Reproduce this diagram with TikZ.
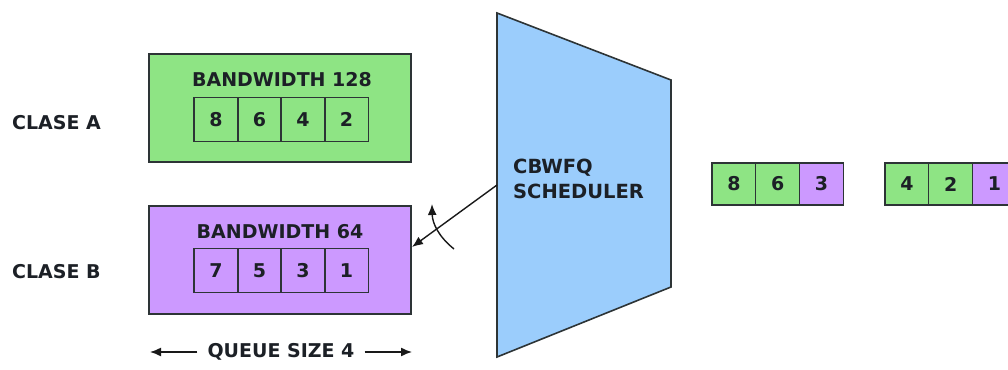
\documentclass[tikz,border=0pt]{standalone}
\usepackage{fontspec}
\setmainfont{DejaVu Sans}
\usetikzlibrary{arrows.meta,calc}

\definecolor{qgreen}{RGB}{142,228,132}
\definecolor{qpurple}{RGB}{204,153,255}
\definecolor{qblue}{RGB}{155,205,252}
\definecolor{edgec}{RGB}{45,52,54}
\definecolor{txt}{RGB}{28,32,38}

\begin{document}
\begin{tikzpicture}[x=1pt,y=-1pt,
  queuebox/.style={draw=edgec, line width=2pt, minimum width=262pt, minimum height=108pt, inner sep=0pt},
  cell/.style={draw=edgec, line width=1.5pt, minimum width=44pt, minimum height=44pt, inner sep=0pt,
    text=txt, font=\bfseries\fontsize{19}{19}\selectfont},
  lbl/.style={text=txt, font=\bfseries\fontsize{19}{20}\selectfont, inner sep=0pt},
  arr/.style={-{Latex[length=11pt,width=9pt]}, line width=1.4pt, draw=black!90}
]
\useasboundingbox (0,0) rectangle (1008,369);

% class labels
\node[lbl, anchor=west] (clA) at (12,123) {CLASE A};
\node[lbl, anchor=west] (clB) at (12,272) {CLASE B};

% class A queue
\node[queuebox, fill=qgreen] (boxA) at (280,108) {};
\node[lbl] (bwA) at (282,80) {BANDWIDTH 128};
\foreach \v [count=\i] in {8,6,4,2}
  \node[cell] (a\i) at ({194+22+43.5*(\i-1)},119.5) {\v};

% class B queue
\node[queuebox, fill=qpurple] (boxB) at (280,260) {};
\node[lbl] (bwB) at (280,232) {BANDWIDTH 64};
\foreach \v [count=\i] in {7,5,3,1}
  \node[cell] (b\i) at ({194+22+43.5*(\i-1)},270.5) {\v};

% queue size marker
\node[lbl] (qs) at (281,352) {QUEUE SIZE 4};
\coordinate (qsL) at (150,352);
\coordinate (qsR) at (412,352);
\draw[arr] (qs.west) ++(-10,0) -- (qsL);
\draw[arr] (qs.east) ++(10,0) -- (qsR);

% scheduler
\draw[draw=edgec, line width=1.6pt, fill=qblue]
  (497,13) coordinate (sTL) -- (671,80) coordinate (sTR)
  -- (671,287) coordinate (sBR) -- (497,357) coordinate (sBL) -- cycle;
\node[lbl, anchor=west, align=left, font=\bfseries\fontsize{19.5}{25}\selectfont] (sched) at (513,179) {CBWFQ\\SCHEDULER};

% scheduler serving class B
\coordinate (sIn) at (497,185);
\coordinate (bIn) at (412,247);
\draw[arr] (sIn) -- (bIn);
\coordinate (cS) at (454,249);
\coordinate (cE) at (432,204);
\draw[arr] (cS) to[bend left=25] (cE);

% output packets
\foreach \v/\c [count=\i] in {8/qgreen,6/qgreen,3/qpurple}
  \node[cell, fill=\c, minimum height=42pt] (o\i) at ({712+22+43.7*(\i-1)},184) {\v};
\foreach \v/\c [count=\i] in {4/qgreen,2/qgreen,1/qpurple}
  \node[cell, fill=\c, minimum height=42pt] (p\i) at ({885+22+43.7*(\i-1)},184) {\v};
\end{tikzpicture}
\end{document}
